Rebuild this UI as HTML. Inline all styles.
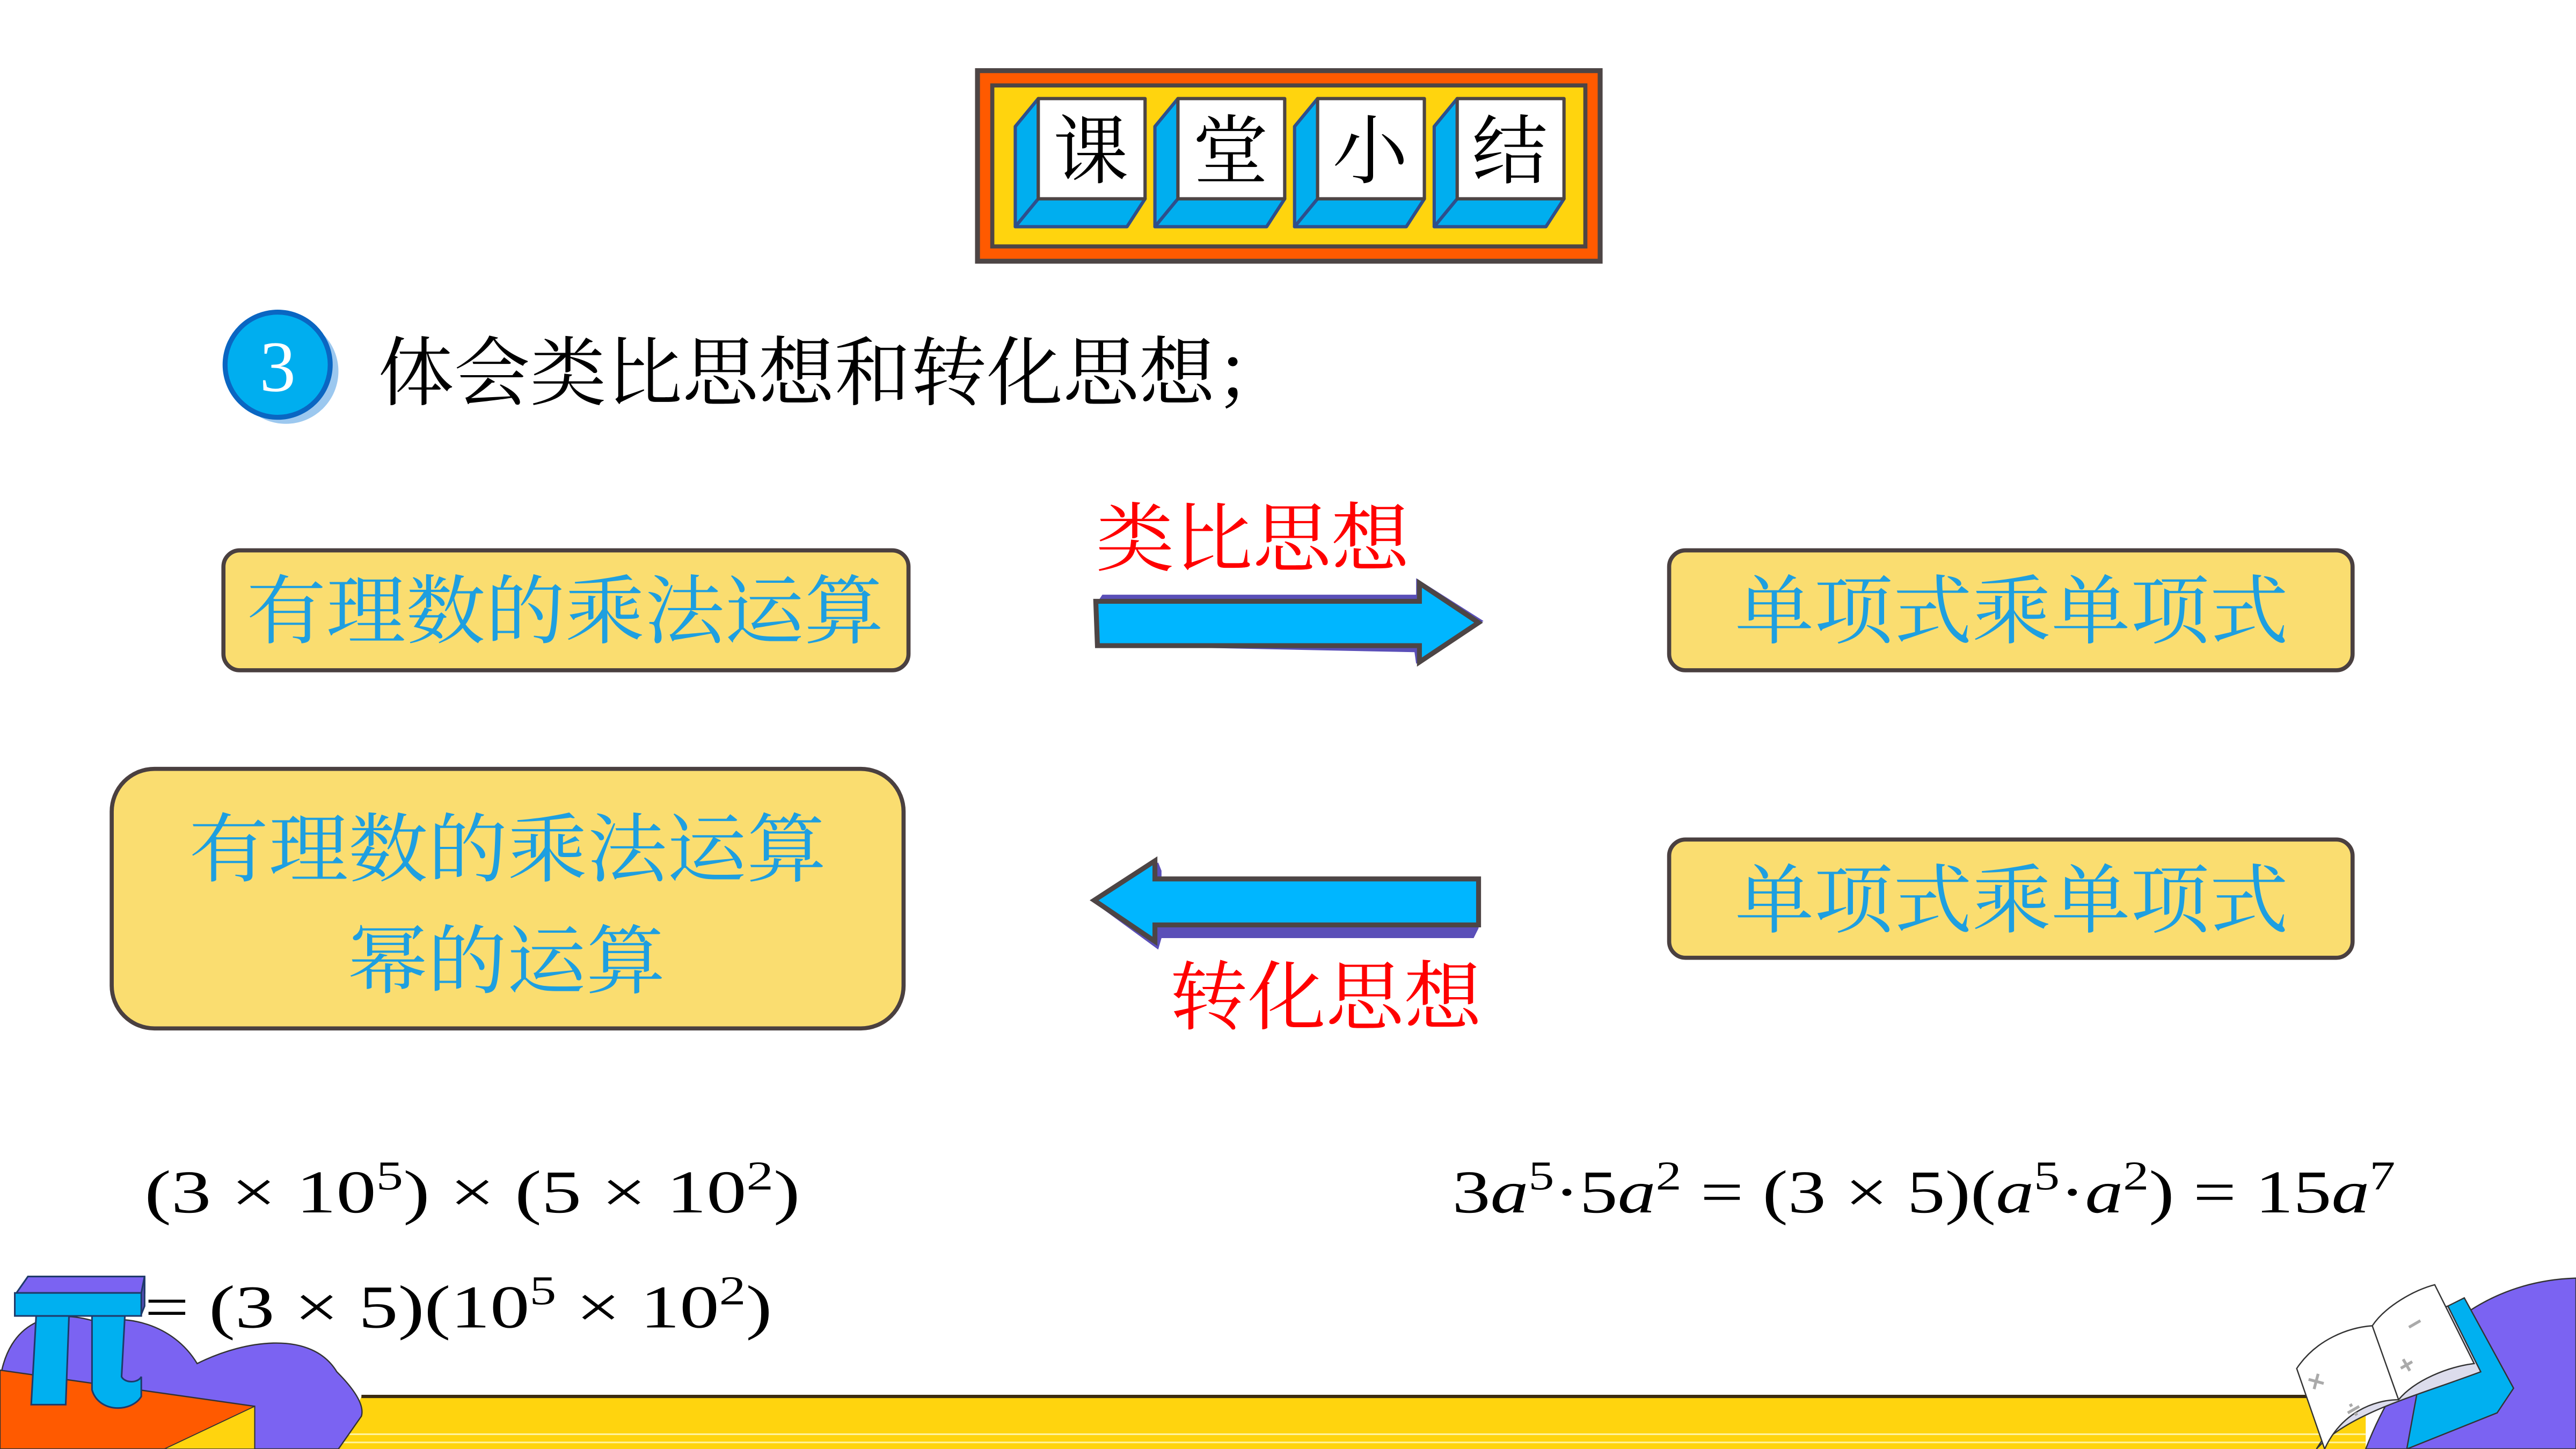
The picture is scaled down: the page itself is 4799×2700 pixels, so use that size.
<!DOCTYPE html>
<html><head><meta charset="utf-8"><style>
html,body{margin:0;padding:0;background:#fff;}
svg{display:block;}
.cjk{font-family:"Liberation Serif","Noto Serif CJK SC",serif;}
.m{font-family:"Liberation Serif","DejaVu Serif",serif;}
</style></head><body>
<svg width="4799" height="2700" viewBox="0 0 1568 882" preserveAspectRatio="none" xmlns="http://www.w3.org/2000/svg">
<rect width="1568" height="882" fill="#fff"/>
<!-- title -->
<rect x="595" y="43" width="379" height="116" fill="#FF5A00" stroke="#4d4545" stroke-width="3"/>
<rect x="604" y="52" width="361" height="98" fill="#FFD40E" stroke="#4d4545" stroke-width="2.5"/>
<g stroke="#2e4f8c" stroke-width="2" stroke-linejoin="round">
<g id="t1">
<polygon points="618,77 632,60 632,121 618,138" fill="#00AEEF"/>
<polygon points="632,121 697,121 686,138 618,138" fill="#00AEEF"/>
<rect x="632" y="60" width="65" height="61" fill="#fff" stroke="#4d4545"/>
</g>
<use href="#t1" x="85"/><use href="#t1" x="170"/><use href="#t1" x="255"/>
</g>
<g class="cjk" font-size="46" text-anchor="middle" fill="#000">
<text x="664" y="108">课</text><text x="749" y="108">堂</text><text x="834" y="108">小</text><text x="919" y="108">结</text>
</g>
<!-- heading -->
<circle cx="174" cy="226" r="32" fill="#9cc8ef"/>
<circle cx="169" cy="222" r="32" fill="#00AEEF" stroke="#0a66c2" stroke-width="3"/>
<text x="169" y="238" font-size="44" fill="#fff" text-anchor="middle" class="m">3</text>
<text x="230" y="243" font-size="46" class="cjk" fill="#000" textLength="556" lengthAdjust="spacingAndGlyphs">体会类比思想和转化思想；</text>
<!-- boxes -->
<g fill="#FADD70" stroke="#4a4040" stroke-width="2.5">
<rect x="136" y="335" width="417" height="73" rx="10"/>
<rect x="1016" y="335" width="416" height="73" rx="10"/>
<rect x="68" y="468" width="482" height="158" rx="26"/>
<rect x="1016" y="511" width="416" height="72" rx="10"/>
</g>
<g class="cjk" font-size="46" fill="#1E9FE0">
<text x="150" y="388" textLength="388" lengthAdjust="spacingAndGlyphs">有理数的乘法运算</text>
<text x="1056" y="388" textLength="337" lengthAdjust="spacingAndGlyphs">单项式乘单项式</text>
<text x="115" y="533" textLength="388" lengthAdjust="spacingAndGlyphs">有理数的乘法运算</text>
<text x="212" y="601" textLength="193" lengthAdjust="spacingAndGlyphs">幂的运算</text>
<text x="1056" y="564" textLength="337" lengthAdjust="spacingAndGlyphs">单项式乘单项式</text>
</g>
<g class="cjk" font-size="46" fill="#FF0000">
<text x="667" y="344" textLength="191" lengthAdjust="spacingAndGlyphs">类比思想</text>
<text x="712" y="623" textLength="190" lengthAdjust="spacingAndGlyphs">转化思想</text>
</g>
<!-- arrows -->
<polygon points="667,368 671,362 862,362 862,352 903,378 862,404 861,397 667,393" fill="#5a4fb8"/>
<polygon points="667,366 864,366 864,355 900,379 864,403 864,393 668,393" fill="#00B6FF" stroke="#4d4545" stroke-width="3" stroke-linejoin="miter"/>
<polygon points="664,548 705,525 707,530 707,536 900,536 900,565 897,571 707,571 705,578" fill="#5a4fb8"/>
<polygon points="666,548 703,524 703,535 900,535 900,563 703,563 703,573" fill="#00B6FF" stroke="#4d4545" stroke-width="3"/>
<!-- formulas -->
<g class="m" font-size="37" fill="#000">
<text x="88" y="738" textLength="399" lengthAdjust="spacingAndGlyphs">(3 × 10<tspan font-size="25" dy="-14">5</tspan><tspan dy="14">) × (5 × 10</tspan><tspan font-size="25" dy="-14">2</tspan><tspan dy="14">)</tspan></text>
<text x="884" y="738" textLength="574" lengthAdjust="spacingAndGlyphs">3<tspan font-style="italic">a</tspan><tspan font-size="25" dy="-14">5</tspan><tspan dy="14">·5</tspan><tspan font-style="italic">a</tspan><tspan font-size="25" dy="-14">2</tspan><tspan dy="14"> = (3 × 5)(</tspan><tspan font-style="italic">a</tspan><tspan font-size="25" dy="-14">5</tspan><tspan dy="14">·</tspan><tspan font-style="italic">a</tspan><tspan font-size="25" dy="-14">2</tspan><tspan dy="14">) = 15</tspan><tspan font-style="italic">a</tspan><tspan font-size="25" dy="-14">7</tspan></text>
</g>
<!-- bottom band -->
<polygon points="220,850 1440,850 1440,882 206,882" fill="#FFD40E"/>
<line x1="220" y1="850" x2="1440" y2="850" stroke="#3a2a10" stroke-width="2"/>
<line x1="210" y1="873" x2="1440" y2="873" stroke="#fff3a0" stroke-width="1"/>
<line x1="208" y1="878" x2="1440" y2="878" stroke="#fff3a0" stroke-width="1"/>
<!-- left decor -->
<path d="M0,882 L0,840 C5,805 30,795 60,805 C75,800 105,805 120,830 C150,815 190,810 205,835 C215,845 222,855 220,862 L206,882 Z" fill="#7B63F2" stroke="#333" stroke-width="0.8"/>
<polygon points="0,834 155,856 155,882 0,882" fill="#FF5A00" stroke="#333" stroke-width="0.8"/>
<polygon points="155,856 100,882 155,882" fill="#FFD40E" stroke="#333" stroke-width="0.6"/>
<g stroke="#1f3a6a" stroke-width="1">
<polygon points="10,787 17,777 88,777 88,787" fill="#7B63F2"/>
<polygon points="86,787 88,777 88,795 86,800" fill="#5a4fb8"/>
<rect x="9" y="787" width="77" height="14" fill="#00B0F0"/>
<path d="M22,801 L42,801 L40,855 L19,855 Z" fill="#00B0F0"/>
<path d="M56,801 L76,801 L74,838 C76,842 84,842 86,838 L86,850 C80,860 60,860 56,846 Z" fill="#00B0F0"/>
</g>
<text x="88" y="808" class="m" font-size="37" fill="#000" textLength="382" lengthAdjust="spacingAndGlyphs">= (3 × 5)(10<tspan font-size="25" dy="-14">5</tspan><tspan dy="14"> × 10</tspan><tspan font-size="25" dy="-14">2</tspan><tspan dy="14">)</tspan></text>
<!-- right decor -->
<path d="M1440,882 C1460,830 1500,780 1568,778 L1568,882 Z" fill="#7B63F2" stroke="#333" stroke-width="0.8"/>
<path d="M1465,882 L1520,860 L1530,845 L1500,790 L1480,800 Z" fill="#00B0F0" stroke="#333" stroke-width="0.8"/>
<path d="M1410,882 C1430,860 1470,850 1510,835 L1490,795 L1460,805 Z" fill="#dcdcec" stroke="#333" stroke-width="0.8"/>
<path d="M1398,833 C1410,815 1430,808 1444,807 C1452,795 1470,785 1482,782 L1506,830 C1490,832 1470,840 1460,852 C1445,852 1425,860 1415,882 Z" fill="#fff" stroke="#333" stroke-width="0.8"/>
<line x1="1444" y1="807" x2="1460" y2="852" stroke="#333" stroke-width="0.8"/>
<g fill="#aaa" font-family="Liberation Sans,sans-serif" font-size="16" font-weight="bold">
<text x="1405" y="845" transform="rotate(-30 1412 840)">×</text>
<text x="1428" y="862" transform="rotate(-30 1435 857)">÷</text>
<text x="1460" y="835" transform="rotate(-30 1467 830)">+</text>
<text x="1465" y="810" transform="rotate(-30 1472 805)">−</text>
</g>
</svg>
</body></html>
